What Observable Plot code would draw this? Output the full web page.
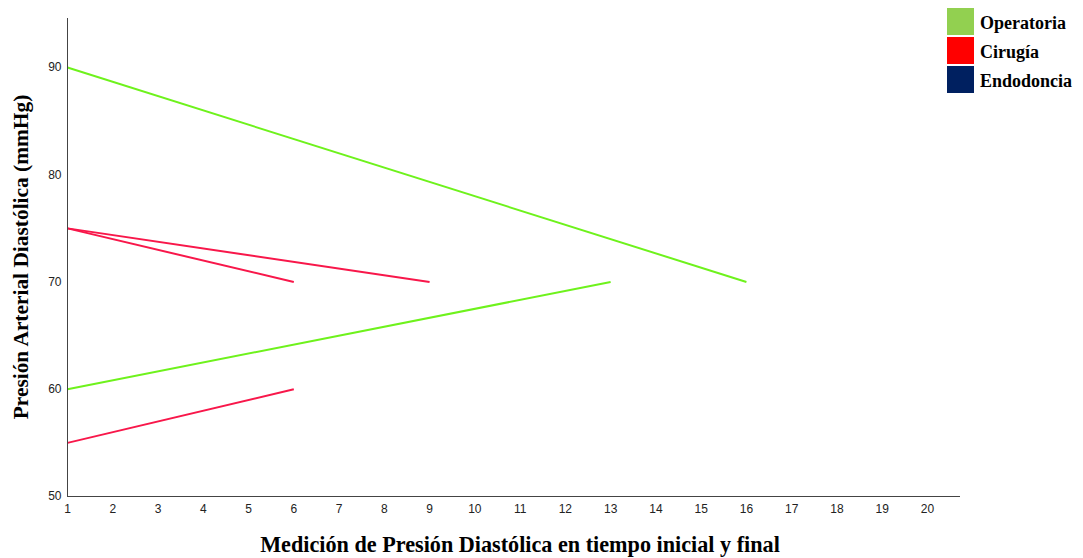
<!DOCTYPE html>
<html>
<head>
<meta charset="utf-8">
<script src="https://cdn.jsdelivr.net/npm/d3@7"></script>
<script src="https://cdn.jsdelivr.net/npm/@observablehq/plot@0.6"></script>
<style>
  html, body { margin: 0; padding: 0; background: #fff; }
  #wrap { position: relative; width: 1083px; height: 558px; }
  .legend { position: absolute; left: 947px; top: 8px; font-family: "Liberation Serif", serif; font-weight: bold; font-size: 18px; color: #000; }
  .legend .item { position: relative; height: 29px; }
  .legend .sw { position: absolute; left: 0; width: 27px; height: 27px; }
  .legend .lb { position: absolute; left: 33px; top: 5px; white-space: nowrap; }
</style>
</head>
<body>
<div id="wrap"></div>
<script>
// Data
const groups = ["Operatoria", "Operatoria", "Cirugía", "Cirugía", "Cirugía"];
const startX = [1, 1, 1, 1, 1];
const startY = [90, 60, 75, 75, 55];
const endX = [16, 13, 6, 9, 6];
const endY = [70, 70, 70, 70, 60];
const legendNames = ["Operatoria", "Cirugía", "Endodoncia"];
const legendColors = ["#92d050", "#ff0000", "#002060"];
const lineColors = ["#6ef21c", "#f8174a", "#002060"];
const xTicks = d3.range(1, 21);
const yTicks = [50, 60, 70, 80, 90];

const rows = groups.map((g, i) => ({g, x1: startX[i], y1: startY[i], x2: endX[i], y2: endY[i]}));

const chart = Plot.plot({
  width: 1083,
  height: 558,
  marginLeft: 67,
  marginRight: 123,
  marginTop: 18,
  marginBottom: 62,
  style: {fontFamily: "Arial, 'Liberation Sans', sans-serif", fontSize: "12px", color: "#222"},
  x: {domain: [1, 20.73], ticks: xTicks, tickSize: 0, tickPadding: 8, label: null},
  y: {domain: [50, 94.57], ticks: yTicks, tickSize: 0, tickPadding: 6, label: null},
  color: {domain: legendNames, range: lineColors},
  marks: [
    Plot.axisX({ticks: xTicks, tickSize: 0, tickPadding: 8, fontSize: 12, fill: "#222"}),
    Plot.axisY({ticks: yTicks, tickSize: 0, tickPadding: 6, fontSize: 12, fill: "#222"}),
    Plot.link(rows, {x1: "x1", y1: "y1", x2: "x2", y2: "y2", stroke: "g", strokeWidth: 2}),
    Plot.ruleX([1], {stroke: "#444", strokeWidth: 1}),
    Plot.ruleY([50], {stroke: "#444", strokeWidth: 1})
  ]
});

const wrap = document.getElementById("wrap");
wrap.appendChild(chart);

const svg = d3.select(chart);
svg.append("text")
  .attr("x", 520).attr("y", 552)
  .attr("text-anchor", "middle")
  .attr("font-family", "'Liberation Serif', 'Times New Roman', serif")
  .attr("font-weight", "bold").attr("font-size", 22.2).attr("fill", "#000")
  .text("Medición de Presión Diastólica en tiempo inicial y final");
svg.append("text")
  .attr("transform", "translate(28,257) rotate(-90)")
  .attr("text-anchor", "middle")
  .attr("font-family", "'Liberation Serif', 'Times New Roman', serif")
  .attr("font-weight", "bold").attr("font-size", 21.4).attr("fill", "#000")
  .text("Presión Arterial Diastólica (mmHg)");

const leg = document.createElement("div");
leg.className = "legend";
legendNames.forEach((n, i) => {
  const it = document.createElement("div");
  it.className = "item";
  it.innerHTML = `<div class="sw" style="background:${legendColors[i]}"></div><div class="lb">${n}</div>`;
  leg.appendChild(it);
});
wrap.appendChild(leg);
</script>
</body>
</html>
